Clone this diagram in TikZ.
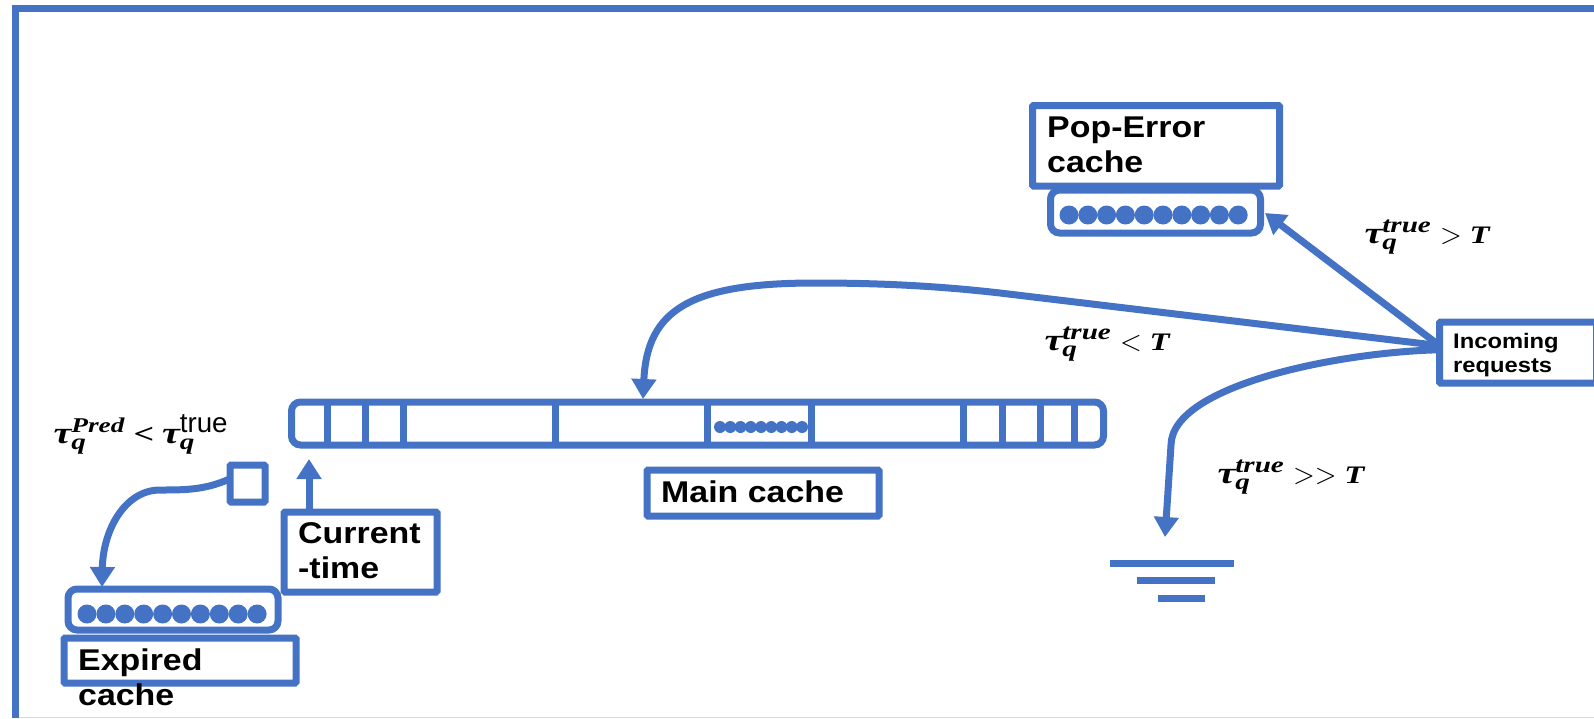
\documentclass[tikz,border=0pt]{standalone}
\usepackage{xcolor}
\usepackage{amsmath}
\usepackage{fontspec}
\setmainfont[FakeStretch=1.13]{Liberation Sans}
\newfontfamily\truefont{Liberation Sans}
\newfontfamily\taufont[FakeStretch=1.3]{Liberation Serif}
\usetikzlibrary{arrows.meta,positioning,calc}
\definecolor{CacheBlue}{HTML}{4472C4}
\newcommand{\mathbi}[2]{\mbox{\fontsize{#1}{#1}\taufont\bfseries\itshape #2}}
\newcommand{\tauq}[1]{\mathbi{11}{τ}_{\mathbi{8}{q}}^{#1}}

\begin{document}
\begin{tikzpicture}[
	x=1pt, y=-1pt,
	box/.style={draw=CacheBlue, fill=white, line width=7pt, inner sep=0pt, outer sep=0pt, rounded corners=1pt},
	queue/.style={box, rounded corners=9pt},
	boxtext/.style={font=\fontsize{30}{35}\selectfont\bfseries, align=left, inner sep=0pt, anchor=north west},
	mathlabel/.style={scale=2.8, inner sep=0pt, anchor=base west},
	dot/.style={circle, fill=CacheBlue, inner sep=0pt, minimum size=19pt},
	smalldot/.style={dot, minimum size=12pt},
	arrow/.style={-{Triangle[length=20pt,width=24pt]}, draw=CacheBlue, line width=7pt},
	wire/.style={draw=CacheBlue, line width=7pt}
]
\useasboundingbox (0,0) rectangle (1594,718);
\draw[draw=black!15, line width=1pt] (19,717) -- (1594,717);
\draw[wire] (15,718) -- (15,8.5) -- (1594,8.5);

% main cache
\node[queue, minimum width=812pt, minimum height=43pt] (mainq) at (697.5,423.5) {};
\foreach \i in {0,...,8}
	\node[smalldot] at (720+\i*10.25,427) {};
\foreach \x in {327,365,403,555,707.5,811.5,963,1002,1040.5,1074}
	\draw[wire] (\x,402) -- (\x,445);
\node[box, minimum width=232pt, minimum height=46pt] (mainbox) at (763,493) {};
\node[boxtext] (maintext) at (661,481) {Main cache};

% expired cache
\node[queue, minimum width=210pt, minimum height=41pt] (expq) at (173,609.5) {};
\foreach \i in {0,...,9}
	\node[dot] at (87+\i*18.9,614) {};
\node[box, minimum width=232pt, minimum height=45pt] (expbox) at (180,660.5) {};
\node[boxtext] (exptext) at (78,649) {Expired\\cache};
\node[box, minimum width=35pt, minimum height=37pt] (square) at (247.5,483.5) {};
\node[box, minimum width=153pt, minimum height=80pt] (curbox) at (360.5,552) {};
\node[boxtext] (curtext) at (298,522) {Current\\-time};
\node[mathlabel] (predlabel) at (53,443) {$\tauq{\mathbi{7.5}{Pred}}\mathrel{\mathbi{10}{<}}\tauq{\mbox{\fontsize{9.9}{9.9}\truefont true}}$};

% pop-error cache
\node[queue, minimum width=210pt, minimum height=43pt] (popq) at (1155.5,211.5) {};
\foreach \i in {0,...,9}
	\node[dot] at (1069+\i*18.8,215) {};
\node[box, minimum width=247pt, minimum height=80.5pt] (popbox) at (1156,145.75) {};
\node[boxtext] (poptext) at (1047,117) {Pop-Error\\cache};

% incoming requests
\node[box, minimum width=157pt, minimum height=61pt] (incoming) at (1518,352.5) {};
\node[boxtext, font=\fontsize{21}{24}\selectfont\bfseries] (inctext) at (1453,333.5) {Incoming\\requests};
\node[mathlabel] (gtlabel) at (1364,243) {$\tauq{\mathbi{8}{true}} > \mathbi{9}{T}$};
\node[mathlabel] (ltlabel) at (1044,350) {$\tauq{\mathbi{8}{true}} < \mathbi{9}{T}$};
\node[mathlabel] (gglabel) at (1217,483) {$\tauq{\mathbi{8}{true}} >> \mathbi{9}{T}$};

% ground
\node[inner sep=0pt, minimum width=124pt, minimum height=7pt, fill=CacheBlue] (ground1) at (1172,563.5) {};
\node[inner sep=0pt, minimum width=78pt, minimum height=7pt, fill=CacheBlue] (ground2) at (1176,580.5) {};
\node[inner sep=0pt, minimum width=47pt, minimum height=7pt, fill=CacheBlue] (ground3) at (1181.5,598.5) {};

% free ends of the arrows
\coordinate (maintip) at (643,399);
\coordinate (curtip) at (309,459);
\coordinate (exptip) at (102,587);
\coordinate (poptip) at (1265,213);
\coordinate (groundtip) at (1165,537);

\draw[arrow] (incoming.175) -- (1000,293) .. controls (930,285) and (870,283) .. (815,283) .. controls (690,283) and (647,310) .. (maintip);
\draw[arrow] (incoming.175) -- (poptip);
\draw[arrow] (incoming.178) .. controls (1340,352) and (1172,385) .. (1171,445) -- (groundtip);
\draw[arrow] (curbox.north -| curtip) -- (curtip);
\draw[arrow] (square.165) .. controls (205,490) and (185,490) .. (160,490) .. controls (125,490) and (103,530) .. (exptip);
\end{tikzpicture}
\end{document}
